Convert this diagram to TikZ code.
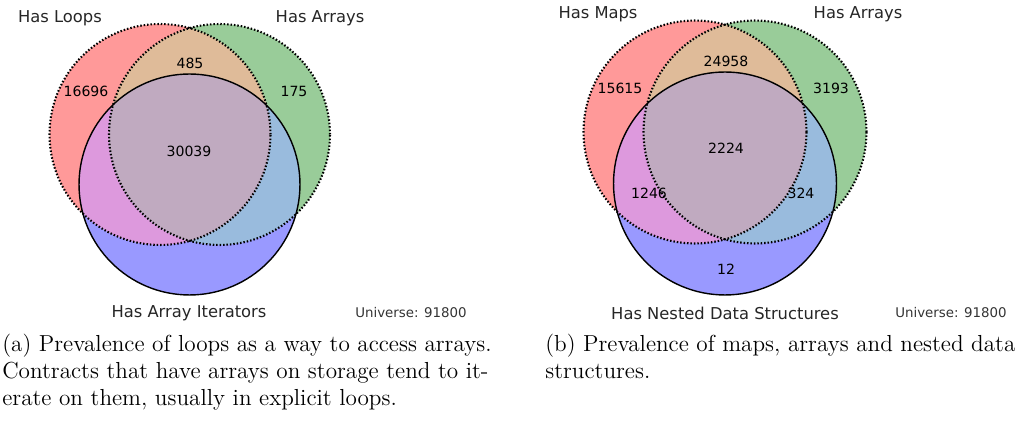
\documentclass[tikz,border=0pt]{standalone}
\usepackage{fontspec}
\newfontfamily\plotfont{DejaVu Sans}

\definecolor{onlyA}{HTML}{FF9999}
\definecolor{onlyB}{HTML}{99CC99}
\definecolor{onlyC}{HTML}{9999FF}
\definecolor{bothAB}{HTML}{DFBB99}
\definecolor{bothAC}{HTML}{DD99DD}
\definecolor{bothBC}{HTML}{99BBDD}
\definecolor{allABC}{HTML}{C0AAC0}

\tikzset{
  setlabel/.style={font=\plotfont\fontsize{9.3}{11}\selectfont, text=black!85},
  count/.style={font=\plotfont\fontsize{8}{10}\selectfont},
  universe/.style={font=\plotfont\fontsize{7.6}{9}\selectfont, text=black!80},
  dotset/.style={line width=1.2pt, dash pattern=on 0.85pt off 1.1pt},
  caption/.style={font=\fontsize{13.2}{15.37}\selectfont, align=left, anchor=north west, inner sep=0pt}
}

% three circles: centres #1 #2 #3, radius #4
\newcommand\vennregions[4]{%
  \fill[onlyA] (#1) circle (#4);
  \fill[onlyB] (#2) circle (#4);
  \fill[onlyC] (#3) circle (#4);
  \begin{scope}
    \clip (#1) circle (#4);
    \fill[bothAB] (#2) circle (#4);
    \fill[bothAC] (#3) circle (#4);
  \end{scope}
  \begin{scope}
    \clip (#2) circle (#4);
    \fill[bothBC] (#3) circle (#4);
  \end{scope}
  \begin{scope}
    \clip (#1) circle (#4);
    \clip (#2) circle (#4);
    \fill[allABC] (#3) circle (#4);
  \end{scope}
  \draw[dotset] (#1) circle (#4) (#2) circle (#4);
  \draw[line width=0.8pt] (#3) circle (#4);
}

\begin{document}
\begin{tikzpicture}[x=0.02cm,y=-0.02cm]
  \useasboundingbox (0,0) rectangle (1031,431);

  % (a) loops / arrays / array iterators
  \coordinate (loops) at (160,134.5);
  \coordinate (arrays) at (219.5,134.5);
  \coordinate (iters) at (189.5,184.5);
  \vennregions{loops}{arrays}{iters}{2.21cm}
  \node[setlabel] (loopslabel) at (60,18) {Has Loops};
  \node[setlabel] (arrayslabel) at (320,18) {Has Arrays};
  \node[setlabel] (iterslabel) at (189,313) {Has Array Iterators};
  \node[universe] (universea) at (411,313) {Universe: 91800};
  \node[count] (na) at (86,91) {16696};
  \node[count] (nab) at (190,63) {485};
  \node[count] (nb) at (294,91) {175};
  \node[count] (nabc) at (189,151) {30039};
  \node[caption] (capa) at (2,334) {(a) Prevalence of loops as a way to access arrays.\\
    Contracts that have arrays on storage tend to it-\\
    erate on them, usually in explicit loops.};

  % (b) maps / arrays / nested data structures
  \coordinate (maps) at (695,132);
  \coordinate (arrays2) at (755,132);
  \coordinate (nested) at (725,183.5);
  \vennregions{maps}{arrays2}{nested}{2.23cm}
  \node[setlabel] (mapslabel) at (598,14) {Has Maps};
  \node[setlabel] (arrays2label) at (858,14) {Has Arrays};
  \node[setlabel] (nestedlabel) at (725,313) {Has Nested Data Structures};
  \node[universe] (universeb) at (951,313) {Universe: 91800};
  \node[count] (nm) at (620,88) {15615};
  \node[count] (nma) at (726,61) {24958};
  \node[count] (nar) at (831,88) {3193};
  \node[count] (nall) at (726,148) {2224};
  \node[count] (nmn) at (649,193) {1246};
  \node[count] (nan) at (801,193) {324};
  \node[count] (nn) at (726,269) {12};
  \node[caption] (capb) at (545,334) {(b) Prevalence of maps, arrays and nested data\\
    structures.};
\end{tikzpicture}
\end{document}
